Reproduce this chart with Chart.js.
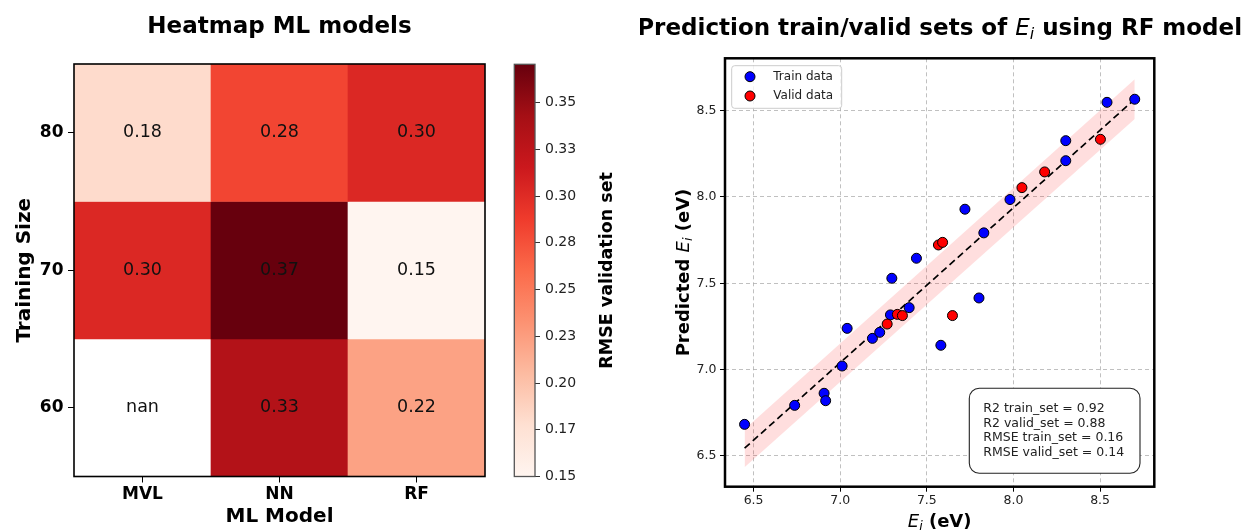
<!DOCTYPE html>
<html>
<head>
<meta charset="utf-8">
<script src="https://cdn.jsdelivr.net/npm/chart.js@4.4.0/dist/chart.umd.min.js"></script>
<style>
  html, body { margin: 0; padding: 0; background: #fff; }
  body { width: 1247px; height: 531px; position: relative; overflow: hidden; }
  .box { position: absolute; top: 0; height: 531px; }
  #heatBox { left: 0; width: 520px; }
  #cbarBox { left: 500px; width: 140px; }
  #scatBox { left: 640px; width: 607px; }
</style>
</head>
<body>
<div class="box" id="heatBox"><canvas id="heat"></canvas></div>
<div class="box" id="cbarBox"><canvas id="cbar"></canvas></div>
<div class="box" id="scatBox"><canvas id="scat"></canvas></div>
<script>
// ── Data: heatmap ──────────────────────────────────────
const models = ['MVL', 'NN', 'RF'];
const trainSizes = [80, 70, 60];
const rmse80 = [0.181, 0.282, 0.303];
const rmse70 = [0.303, 0.3705, 0.150];
const rmse60 = [null, 0.333, 0.222];
const sizeTicks = [60, 70, 80];
const cbarTicks = [0.15, 0.175, 0.2, 0.225, 0.25, 0.275, 0.3, 0.325, 0.35];
const cbarLabels = ['0.15', '0.17', '0.20', '0.23', '0.25', '0.28', '0.30', '0.33', '0.35'];

// ── Data: RF prediction scatter ────────────────────────
const trainX = [6.448, 6.737, 6.907, 6.916, 7.011, 7.040, 7.186, 7.228, 7.290, 7.298, 7.398,
                7.440, 7.581, 7.720, 7.801, 7.829, 7.980, 8.302, 8.302, 8.540, 8.700];
const trainY = [6.683, 6.793, 6.863, 6.820, 7.021, 7.239, 7.181, 7.216, 7.317, 7.529, 7.359,
                7.645, 7.141, 7.929, 7.415, 7.792, 7.985, 8.326, 8.210, 8.548, 8.566];
const validX = [7.271, 7.330, 7.359, 7.567, 7.591, 7.648, 8.049, 8.180, 8.502];
const validY = [7.264, 7.320, 7.313, 7.722, 7.737, 7.313, 8.054, 8.145, 8.334];
const fitX = [6.448, 8.700];
const fitY = [6.545, 8.566];
const bandLow = [6.435, 8.451];
const bandHigh = [6.655, 8.681];
const eTicks = [6.5, 7.0, 7.5, 8.0, 8.5];
const statLines = ['R2 train_set = 0.92', 'R2 valid_set = 0.88', 'RMSE train_set = 0.16', 'RMSE valid_set = 0.14'];

// ── Helpers ────────────────────────────────────────────
const FONT = "'DejaVu Sans'";
const REDS = ['#fff5f0', '#fee0d2', '#fcbba1', '#fc9272', '#fb6a4a', '#ef3b2c', '#cb181d', '#a50f15', '#67000d'];

const rows = [rmse80, rmse70, rmse60];
const known = rows.flat().filter(v => v !== null);
const vmin = Math.min(...known);
const vmax = Math.max(...known);

function hex(c) { return [1, 3, 5].map(i => parseInt(c.slice(i, i + 2), 16)); }

function reds(v) {
    if (v === null) return '#ffffff';
    const t = Math.max(0, Math.min(1, (v - vmin) / (vmax - vmin)));
    const p = t * (REDS.length - 1);
    const i = Math.min(Math.floor(p), REDS.length - 2);
    const f = p - i;
    const a = hex(REDS[i]), b = hex(REDS[i + 1]);
    return `rgb(${a.map((c, k) => Math.round(c + (b[k] - c) * f)).join(',')})`;
}

function pts(xs, ys) { return xs.map((x, i) => ({ x, y: ys[i] })); }

function roundRect(ctx, x, y, w, h, r) {
    ctx.beginPath();
    ctx.moveTo(x + r, y);
    ctx.arcTo(x + w, y, x + w, y + h, r);
    ctx.arcTo(x + w, y + h, x, y + h, r);
    ctx.arcTo(x, y + h, x, y, r);
    ctx.arcTo(x, y, x + w, y, r);
    ctx.closePath();
}

// text made of runs with different fonts (for E_i), centred on cx, baseline at cy
function drawRuns(ctx, runs, cx, cy, rot) {
    ctx.save();
    ctx.translate(cx, cy);
    ctx.rotate(rot || 0);
    ctx.textAlign = 'left';
    ctx.textBaseline = 'alphabetic';
    ctx.fillStyle = '#000';
    let total = 0;
    runs.forEach(r => { ctx.font = r.font; r.w = ctx.measureText(r.text).width; total += r.w; });
    let x = -total / 2;
    runs.forEach(r => { ctx.font = r.font; ctx.fillText(r.text, x, r.dy || 0); x += r.w; });
    ctx.restore();
}

const frame = {
    id: 'frame',
    afterDraw(chart, args, opts) {
        const { ctx, chartArea: a } = chart;
        ctx.save();
        ctx.strokeStyle = opts.color || '#000';
        ctx.lineWidth = opts.width || 1;
        ctx.strokeRect(a.left, a.top, a.right - a.left, a.bottom - a.top);
        ctx.restore();
    }
};

// ── Heatmap ────────────────────────────────────────────
const cellLabels = {
    id: 'cellLabels',
    afterDatasetsDraw(chart) {
        const ctx = chart.ctx;
        ctx.save();
        ctx.font = `17.5px ${FONT}`;
        ctx.fillStyle = '#111';
        ctx.textAlign = 'center';
        ctx.textBaseline = 'middle';
        chart.data.datasets.forEach((ds, d) => {
            chart.getDatasetMeta(d).data.forEach((bar, i) => {
                const p = bar.getProps(['x', 'y', 'base'], true);
                const v = ds.values[i];
                ctx.fillText(v === null ? 'nan' : v.toFixed(2), p.x, (p.y + p.base) / 2);
            });
        });
        ctx.restore();
    }
};

new Chart(document.getElementById('heat'), {
    type: 'bar',
    data: {
        labels: models,
        datasets: rows.map((vals, r) => ({
            label: String(trainSizes[r]),
            data: vals.map(() => [trainSizes[r] - 5, trainSizes[r] + 5]),
            values: vals,
            backgroundColor: vals.map(reds),
            borderWidth: 0,
            barPercentage: 1,
            categoryPercentage: 1,
            grouped: false
        }))
    },
    options: {
        animation: false,
        responsive: true,
        maintainAspectRatio: false,
        devicePixelRatio: 1,
        layout: { padding: { left: 0, right: 35, top: 0, bottom: 0 } },
        plugins: {
            legend: { display: false },
            tooltip: { enabled: false },
            frame: { color: '#000', width: 1.6 },
            title: {
                display: true, text: 'Heatmap ML models', fullSize: false, color: '#000',
                font: { family: FONT, size: 23, weight: 'bold', lineHeight: 1.2 },
                padding: { top: 13.2, bottom: 23.2 }
            }
        },
        scales: {
            x: {
                offset: true,
                grid: { offset: false, drawOnChartArea: false, tickLength: 6, tickColor: '#000', tickWidth: 1 },
                border: { display: false },
                ticks: { color: '#000', font: { family: FONT, size: 17, weight: 'bold' }, padding: 1.5 },
                title: {
                    display: true, text: 'ML Model', color: '#000',
                    font: { family: FONT, size: 20, weight: 'bold', lineHeight: 1.2 },
                    padding: { top: 0, bottom: 2 }
                },
                afterFit: s => { s.height = 54.5; }
            },
            y: {
                min: 55, max: 85,
                afterBuildTicks: s => { s.ticks = sizeTicks.map(v => ({ value: v })); },
                grid: { drawOnChartArea: false, tickLength: 6, tickColor: '#000', tickWidth: 1 },
                border: { display: false },
                ticks: { color: '#000', font: { family: FONT, size: 17, weight: 'bold' }, padding: 4.5 },
                title: {
                    display: true, text: 'Training Size', color: '#000',
                    font: { family: FONT, size: 20, weight: 'bold', lineHeight: 1.2 },
                    padding: { top: 12.6, bottom: 0 }
                },
                afterFit: s => { s.width = 74; }
            }
        }
    },
    plugins: [cellLabels, frame]
});

// ── Colorbar ───────────────────────────────────────────
const cbarTitle = {
    id: 'cbarTitle',
    afterDraw(chart) {
        const { ctx, chartArea: a } = chart;
        ctx.save();
        ctx.translate(107, (a.top + a.bottom) / 2);
        ctx.rotate(-Math.PI / 2);
        ctx.font = `bold 17.5px ${FONT}`;
        ctx.fillStyle = '#000';
        ctx.textAlign = 'center';
        ctx.textBaseline = 'middle';
        ctx.fillText('RMSE validation set', 0, 0);
        ctx.restore();
    }
};

new Chart(document.getElementById('cbar'), {
    type: 'bar',
    data: {
        labels: ['rmse'],
        datasets: [{
            data: [[vmin, vmax]],
            backgroundColor: c => {
                const a = c.chart.chartArea;
                if (!a) return '#fff';
                const g = c.chart.ctx.createLinearGradient(0, a.bottom, 0, a.top);
                REDS.forEach((col, i) => g.addColorStop(i / (REDS.length - 1), col));
                return g;
            },
            borderWidth: 0,
            barPercentage: 1,
            categoryPercentage: 1
        }]
    },
    options: {
        animation: false,
        responsive: true,
        maintainAspectRatio: false,
        devicePixelRatio: 1,
        layout: { padding: { left: 14.3, right: 0, top: 64.3, bottom: 54.5 } },
        plugins: {
            legend: { display: false },
            tooltip: { enabled: false },
            frame: { color: '#555', width: 1.3 }
        },
        scales: {
            x: { display: false },
            y: {
                position: 'right',
                min: vmin, max: vmax,
                afterBuildTicks: s => { s.ticks = cbarTicks.map(v => ({ value: v })); },
                grid: { drawOnChartArea: false, tickLength: 5, tickColor: '#333', tickWidth: 1 },
                border: { display: false },
                ticks: {
                    color: '#222', font: { family: FONT, size: 14 }, padding: 5,
                    callback: (v, i) => cbarLabels[i]
                },
                afterFit: s => { s.width = 105; }
            }
        }
    },
    plugins: [frame, cbarTitle]
});

// ── Scatter: prediction vs reference ───────────────────
const scatterDecor = {
    id: 'scatterDecor',
    afterDraw(chart) {
        const { ctx, chartArea: a } = chart;
        ctx.save();

        // legend
        const lx = a.left + 6.7, ly = a.top + 7.4;
        roundRect(ctx, lx, ly, 110, 42.6, 3);
        ctx.fillStyle = 'rgba(255,255,255,0.8)';
        ctx.fill();
        ctx.strokeStyle = '#cccccc';
        ctx.lineWidth = 1;
        ctx.stroke();
        chart.data.datasets.filter(d => d.type === 'scatter').forEach((ds, k) => {
            const cy = ly + 11 + k * 19.3;
            ctx.beginPath();
            ctx.arc(lx + 18.3, cy, 5, 0, Math.PI * 2);
            ctx.fillStyle = ds.backgroundColor;
            ctx.fill();
            ctx.strokeStyle = '#000';
            ctx.stroke();
            ctx.fillStyle = '#222';
            ctx.font = `12px ${FONT}`;
            ctx.textAlign = 'left';
            ctx.textBaseline = 'middle';
            ctx.fillText(ds.label, lx + 41.6, cy);
        });

        // stats box
        const bw = 170.7, bh = 85;
        const bx = a.right - 14.3 - bw, by = a.bottom - 13.4 - bh;
        roundRect(ctx, bx, by, bw, bh, 10);
        ctx.fillStyle = '#fff';
        ctx.fill();
        ctx.strokeStyle = '#222';
        ctx.lineWidth = 1.1;
        ctx.stroke();
        ctx.fillStyle = '#222';
        ctx.font = `12.5px ${FONT}`;
        ctx.textAlign = 'left';
        ctx.textBaseline = 'middle';
        statLines.forEach((t, k) => ctx.fillText(t, bx + 14, by + 20.7 + k * 14.5));

        // frame
        ctx.strokeStyle = '#000';
        ctx.lineWidth = 2.5;
        ctx.strokeRect(a.left, a.top, a.right - a.left, a.bottom - a.top);
        ctx.restore();

        // title and axis labels (with italic E_i)
        const cx = (a.left + a.right) / 2;
        drawRuns(ctx, [
            { text: 'Prediction train/valid sets of ', font: `bold 23px ${FONT}` },
            { text: 'E', font: `italic 23px ${FONT}` },
            { text: 'i', font: `italic 16px ${FONT}`, dy: 4 },
            { text: ' using RF model', font: `bold 23px ${FONT}` }
        ], cx, 35.4);
        drawRuns(ctx, [
            { text: 'E', font: `italic 18px ${FONT}` },
            { text: 'i', font: `italic 12.6px ${FONT}`, dy: 3 },
            { text: ' (eV)', font: `bold 18px ${FONT}` }
        ], cx, 527);
        drawRuns(ctx, [
            { text: 'Predicted ', font: `bold 18px ${FONT}` },
            { text: 'E', font: `italic 18px ${FONT}` },
            { text: 'i', font: `italic 12.6px ${FONT}`, dy: 3 },
            { text: ' (eV)', font: `bold 18px ${FONT}` }
        ], 48.5, (a.top + a.bottom) / 2, -Math.PI / 2);
    }
};

const gridOpts = { color: '#b0b0b0', lineWidth: 0.8, tickLength: 5, tickColor: '#000', tickWidth: 1, tickBorderDash: [] };

new Chart(document.getElementById('scat'), {
    type: 'scatter',
    data: {
        datasets: [
            { type: 'line', label: 'band low', data: pts(fitX, bandLow), showLine: true, borderColor: 'transparent', borderWidth: 0, pointRadius: 0, fill: false, order: 5 },
            { type: 'line', label: 'band high', data: pts(fitX, bandHigh), showLine: true, borderColor: 'transparent', borderWidth: 0, pointRadius: 0, fill: '-1', backgroundColor: 'rgba(255,0,0,0.13)', order: 4 },
            { type: 'line', label: 'fit', data: pts(fitX, fitY), showLine: true, borderColor: '#000', borderWidth: 1.7, borderDash: [7, 4], pointRadius: 0, fill: false, order: 3 },
            { type: 'scatter', label: 'Train data', data: pts(trainX, trainY), backgroundColor: '#0000ff', borderColor: '#000', borderWidth: 1, pointRadius: 5, order: 2 },
            { type: 'scatter', label: 'Valid data', data: pts(validX, validY), backgroundColor: '#ff0000', borderColor: '#000', borderWidth: 1, pointRadius: 5, order: 1 }
        ]
    },
    options: {
        animation: false,
        responsive: true,
        maintainAspectRatio: false,
        devicePixelRatio: 1,
        layout: { padding: { left: 0, right: 92.7, top: 58.3, bottom: 0 } },
        plugins: { legend: { display: false }, tooltip: { enabled: false } },
        scales: {
            x: {
                type: 'linear', min: 6.335, max: 8.813,
                afterBuildTicks: s => { s.ticks = eTicks.map(v => ({ value: v })); },
                grid: gridOpts,
                border: { display: false, dash: [4, 3] },
                ticks: { color: '#222', font: { family: FONT, size: 12.5 }, padding: 2, maxRotation: 0, callback: v => v.toFixed(1) },
                afterFit: s => { s.height = 44.3; }
            },
            y: {
                type: 'linear', min: 6.322, max: 8.803,
                afterBuildTicks: s => { s.ticks = eTicks.map(v => ({ value: v })); },
                grid: gridOpts,
                border: { display: false, dash: [4, 3] },
                ticks: { color: '#222', font: { family: FONT, size: 12.5 }, padding: 3.5, callback: v => v.toFixed(1) },
                afterFit: s => { s.width = 85; }
            }
        }
    },
    plugins: [scatterDecor]
});
</script>
</body>
</html>
